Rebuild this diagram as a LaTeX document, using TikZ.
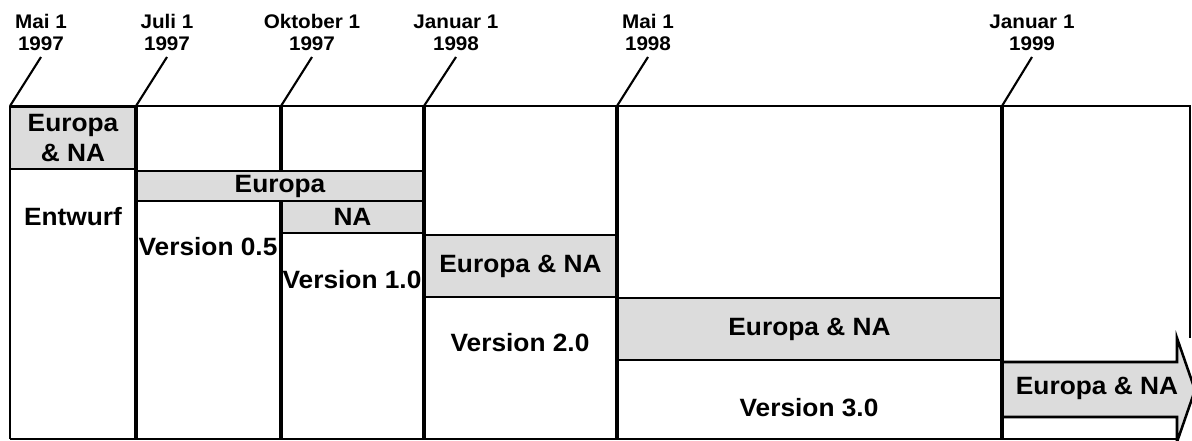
\documentclass[tikz,border=0pt]{standalone}
\usepackage{fontspec}
\setmainfont{Liberation Sans}[FakeStretch=1.05]
\usetikzlibrary{positioning}
\definecolor{bandgray}{RGB}{220,220,220}

\begin{document}
\begin{tikzpicture}[
    x=0.025cm, y=-0.025cm,
    band/.style={draw, line width=1.8pt, fill=bandgray, inner sep=0pt,
      font=\fontsize{17.8}{21.3}\selectfont\bfseries, align=center},
    version/.style={inner sep=0pt, font=\fontsize{17.8}{21.3}\selectfont\bfseries},
    datum/.style={inner sep=0pt, align=center,
      font=\fontsize{14}{15.6}\selectfont\bfseries},
    divider/.style={line width=2.9pt},
    frame/.style={line width=1.8pt},
    tick/.style={line width=1.5pt}
  ]
  \useasboundingbox (0,0) rectangle (1192,441);

  % gray bands
  \node[band, minimum width=3.15cm, minimum height=1.55cm] (b1) at (73,138) {Europa\\\& NA};
  \node[band, minimum width=7.2cm, minimum height=0.75cm] (b2) at (280,186) {Europa};
  \node[band, minimum width=3.575cm, minimum height=0.8cm] (b3) at (352.5,217) {NA};
  \node[band, minimum width=4.825cm, minimum height=1.55cm] (b4) at (520.5,266) {Europa \& NA};
  \node[band, minimum width=9.625cm, minimum height=1.55cm] (b5) at (809.5,329) {Europa \& NA};
  \draw[line width=1.8pt, fill=bandgray] (1002,362) -- (1177,362) -- (1177,338) -- (1195,390)
    -- (1177,442) -- (1177,417) -- (1002,417) -- cycle;
  \node[version] (b6) at (1097,388) {Europa \& NA};

  % versions
  \node[version] (v1) at (73,217) {Entwurf};
  \node[version] (v2) at (208,247) {Version 0.5};
  \node[version] (v3) at (352,280) {Version 1.0};
  \node[version] (v4) at (520,343) {Version 2.0};
  \node[version] (v5) at (809,408) {Version 3.0};

  % frame and dividers
  \draw[frame] (10,106) -- (1190,106) -- (1190,338);
  \draw[frame] (10,439) -- (1177,439);
  \draw[frame] (10,106) -- (10,439);
  \coordinate (c1) at (10,106);
  \coordinate (c2) at (136,106);
  \coordinate (c3) at (281,106);
  \coordinate (c4) at (424,106);
  \coordinate (c5) at (617,106);
  \coordinate (c6) at (1002,106);
  \draw[divider] (c2) -- (136,439);
  \draw[divider] (c3) -- (b2.north -| c3);
  \draw[divider] (b2.south -| c3) -- (281,439);
  \draw[divider] (c4) -- (424,439);
  \draw[divider] (c5) -- (617,439);
  \draw[divider] (c6) -- (1002,439);

  % dates
  \coordinate (t1) at (41,57);
  \coordinate (t2) at (167,57);
  \coordinate (t3) at (312,57);
  \coordinate (t4) at (456,57);
  \coordinate (t5) at (648,57);
  \coordinate (t6) at (1032,57);
  \node[datum, above=0.15cm of t1] (d1) {Mai 1\\1997};
  \node[datum, above=0.15cm of t2] (d2) {Juli 1\\1997};
  \node[datum, above=0.15cm of t3] (d3) {Oktober 1\\1997};
  \node[datum, above=0.15cm of t4] (d4) {Januar 1\\1998};
  \node[datum, above=0.15cm of t5] (d5) {Mai 1\\1998};
  \node[datum, above=0.15cm of t6] (d6) {Januar 1\\1999};
  \draw[tick] (t1) -- (c1);
  \draw[tick] (t2) -- (c2);
  \draw[tick] (t3) -- (c3);
  \draw[tick] (t4) -- (c4);
  \draw[tick] (t5) -- (c5);
  \draw[tick] (t6) -- (c6);
\end{tikzpicture}
\end{document}
